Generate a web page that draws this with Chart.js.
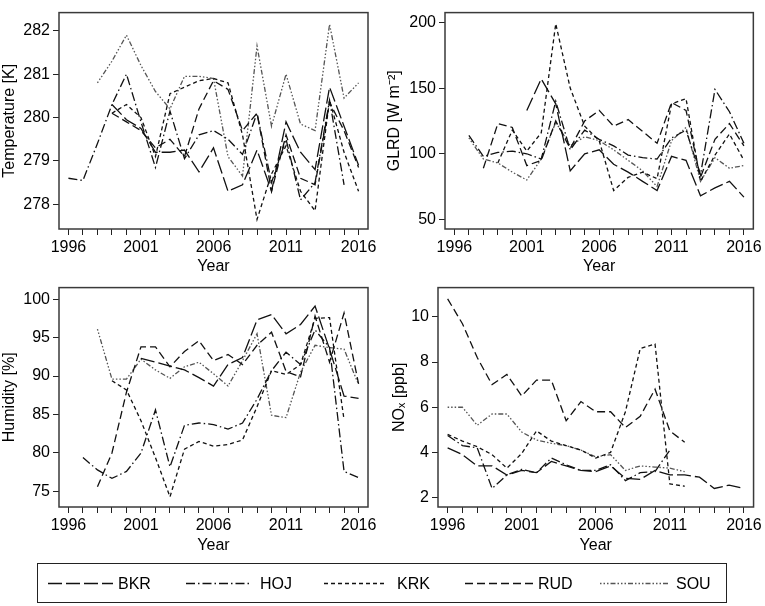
<!DOCTYPE html>
<html><head><meta charset="utf-8">
<script src="https://cdn.jsdelivr.net/npm/chart.js@4.4.1/dist/chart.umd.min.js"></script>
<style>
html,body{margin:0;padding:0;background:#fff;}
body{width:765px;height:606px;position:relative;overflow:hidden;font-family:"Liberation Sans",Arial,sans-serif;}
canvas{position:absolute;}
#legend{position:absolute;left:37px;top:563px;width:688px;height:38px;border:1px solid #222;}
#legend svg{position:absolute;top:0;left:0;}
#legend span{position:absolute;top:10px;font-size:16px;color:#000;line-height:19px;}
</style></head><body>
<canvas id="c1" width="380" height="276" style="left:0;top:0;width:380px;height:276px"></canvas>
<canvas id="c2" width="385" height="276" style="left:380px;top:0;width:385px;height:276px"></canvas>
<canvas id="c3" width="380" height="280" style="left:0;top:275px;width:380px;height:280px"></canvas>
<canvas id="c4" width="385" height="280" style="left:380px;top:275px;width:385px;height:280px"></canvas>
<div id="legend"></div>
<script>
// ---------- data ----------
const years = [1996,1997,1998,1999,2000,2001,2002,2003,2004,2005,2006,2007,2008,2009,2010,2011,2012,2013,2014,2015,2016];
const stations = ["BKR","HOJ","KRK","RUD","SOU"];

const tempBKR = [null,null,null,280.3,279.95,279.75,279.2,279.2,279.25,278.75,279.3,278.3,278.45,279.25,278.3,279.9,279.2,278.8,280.7,279.8,278.9];
const tempHOJ = [278.6,278.55,279.4,280.3,281.0,279.9,278.85,280.15,279.05,279.6,279.7,279.5,279.15,280.1,278.5,279.5,278.1,278.5,280.4,278.45,null];
const tempKRK = [null,null,null,280.1,280.3,280.0,279.1,280.55,280.7,280.85,280.9,280.8,279.6,277.65,278.7,279.35,278.3,277.85,280.4,279.2,278.3];
const tempRUD = [null,null,null,280.1,279.9,279.7,279.3,279.5,279.1,280.2,280.85,280.65,279.7,280.1,278.3,279.6,278.6,278.45,280.35,279.7,278.85];
const tempSOU = [null,null,280.8,281.3,281.9,281.2,280.6,280.2,280.95,280.95,280.9,279.1,278.65,281.65,279.8,281.0,279.85,279.7,282.15,280.45,280.8];

const glrdBKR = [null,null,null,null,null,133,157,138,87,100,103,92,86,79,72,98,95,68,74,79,67];
const glrdHOJ = [null,114,98,101,102,100,96,140,103,118,111,106,99,97,96,112,118,84,149,132,108];
const glrdKRK = [null,null,null,93,118,102,116,199,150,121,110,72,82,86,81,138,142,79,99,115,95];
const glrdRUD = [null,null,89,123,120,91,95,125,104,125,133,121,126,117,108,139,133,82,111,123,106];
const glrdSOU = [null,112,96,93,86,80,96,124,106,113,110,103,95,87,75,110,120,79,97,89,91];

const humBKR = [null,null,null,null,null,92.3,91.8,91.3,90.8,89.8,88.7,91.5,92.4,97.3,98.0,95.5,96.7,99.1,93.5,87.4,87.1];
const humHOJ = [null,79.4,77.8,76.7,77.6,80.0,85.6,78.2,83.6,83.9,83.7,83.1,83.9,87.0,90.7,93.1,91.5,96.0,93.7,77.6,76.8];
const humKRK = [null,null,null,89.4,88.2,84.2,79.4,74.3,80.5,81.5,80.9,81.1,81.7,86.0,90.7,90.2,91.5,97.5,97.6,84.3,null];
const humRUD = [null,null,75.6,80.0,87.9,93.8,93.8,91.2,93.2,94.6,92.0,92.8,91.5,94.0,95.7,90.6,89.9,97.8,91.8,98.2,89.0];
const humSOU = [null,null,96.1,89.6,89.6,92.2,90.8,89.7,91.2,91.8,90.3,88.7,92.0,95.5,84.9,84.6,90.5,94.0,93.7,93.5,88.9];

const noxBKR = [4.2,3.9,3.4,3.4,3.0,3.2,3.1,3.6,3.4,3.2,3.15,3.4,2.85,2.8,3.2,3.0,3.0,2.9,2.4,2.55,2.4];
const noxHOJ = [4.75,4.3,4.2,2.4,3.0,3.25,3.1,3.75,3.45,3.2,3.2,3.45,2.75,3.1,3.15,4.1,null,null,null,null,null];
const noxKRK = [4.8,4.5,4.25,3.9,3.3,3.95,4.95,4.5,4.3,4.1,3.75,4.0,5.8,8.6,8.8,2.6,2.5,null,null,null,null];
const noxRUD = [10.8,9.7,8.2,7.0,7.45,6.5,7.2,7.2,5.4,6.25,5.8,5.8,5.1,5.6,6.8,4.95,4.45,null,null,null,null];
const noxSOU = [6.0,6.0,5.2,5.7,5.7,4.9,4.55,4.4,4.3,4.1,3.8,3.9,3.2,3.4,3.35,3.3,3.15,null,null,null,null];

const tempTicks = [278,279,280,281,282];
const glrdTicks = [50,100,150,200];
const humTicks = [75,80,85,90,95,100];
const noxTicks = [2,4,6,8,10];
const yearLabels = [1996,2001,2006,2011,2016];

// ---------- styles ----------
const lineStyles = {
  BKR:{color:'#111', dash:[14,4]},
  HOJ:{color:'#111', dash:[9,3,1.5,3]},
  KRK:{color:'#111', dash:[4,3]},
  RUD:{color:'#111', dash:[8,4]},
  SOU:{color:'#555', dash:[1.5,2,1.5,2,1.5,2,5,2]}
};
const FONT = {family:"'Liberation Sans', Arial, sans-serif", size:16};

const framePlugin = {
  id:'frame',
  afterDraw(chart){
    const a = chart.chartArea, c = chart.ctx;
    c.save(); c.strokeStyle='#3a3a3a'; c.lineWidth=1.5;
    c.strokeRect(a.left, a.top, a.right-a.left, a.bottom-a.top);
    c.restore();
  }
};

function makeChart(id, seriesArrays, yMin, yMax, yTicks, yTitle, yAxisW, xAxisH, rightPad, titlePad){
  const datasets = stations.map((s,i)=>{
    const pts = [];
    years.forEach((yr,j)=>{ const v = seriesArrays[i][j]; if(v!==null) pts.push({x:yr,y:v}); });
    return {label:s, data:pts, borderColor:lineStyles[s].color, borderWidth:1.3,
            borderDash:lineStyles[s].dash, pointRadius:0, fill:false, tension:0};
  });
  return new Chart(document.getElementById(id), {
    type:'line',
    data:{datasets},
    options:{
      responsive:false, animation:false, devicePixelRatio:1,
      layout:{padding:{left:0, top:2, right:rightPad, bottom:0}},
      plugins:{legend:{display:false}, tooltip:{enabled:false}},
      scales:{
        x:{type:'linear', min:1995.35, max:2016.65,
           afterBuildTicks:s=>{ s.ticks = years.map(v=>({value:v})); },
           afterFit:s=>{ s.height = xAxisH; },
           ticks:{autoSkip:false, maxRotation:0, padding:3, color:'#000', font:FONT,
                  callback:v=> yearLabels.includes(v) ? String(v) : ''},
           grid:{drawOnChartArea:false, drawTicks:true, tickLength:6, tickColor:'#222'},
           border:{display:false},
           title:{display:true, text:'Year', color:'#000', font:FONT, padding:0}},
        y:{type:'linear', min:yMin, max:yMax,
           afterBuildTicks:s=>{ s.ticks = yTicks.map(v=>({value:v})); },
           afterFit:s=>{ s.width = yAxisW; },
           ticks:{padding:3, color:'#000', font:FONT},
           grid:{drawOnChartArea:false, drawTicks:true, tickLength:6, tickColor:'#222'},
           border:{display:false},
           title:{display:true, text:yTitle, color:'#000', font:FONT, padding:{top:titlePad,bottom:0}}}
      }
    },
    plugins:[framePlugin]
  });
}

makeChart('c1', [tempBKR,tempHOJ,tempKRK,tempRUD,tempSOU], 277.43, 282.42, tempTicks, 'Temperature [K]', 59, 47, 12, 0);
makeChart('c2', [glrdBKR,glrdHOJ,glrdKRK,glrdRUD,glrdSOU], 42.7, 207.5, glrdTicks, 'GLRD [W m\u207B\u00B2]', 65, 47, 9, 5);
makeChart('c3', [humBKR,humHOJ,humKRK,humRUD,humSOU], 72.98, 101.5, humTicks, 'Humidity [%]', 59, 48, 12, 0);
makeChart('c4', [noxBKR,noxHOJ,noxKRK,noxRUD,noxSOU], 1.58, 11.3, noxTicks, 'NO\u2093 [ppb]', 58, 48, 9, 10);

// ---------- legend ----------
const legendPos = [[10,75,80],[148,211,222],[286,349,359],[427,495,500],[562,630,638]];
const lg = document.getElementById('legend');
let svg = '<svg width="688" height="38" xmlns="http://www.w3.org/2000/svg">';
stations.forEach((s,i)=>{
  const [x1,x2] = legendPos[i];
  svg += `<line x1="${x1}" y1="19.5" x2="${x2}" y2="19.5" stroke="${lineStyles[s].color}" stroke-width="1.5" stroke-dasharray="${lineStyles[s].dash.join(',')}"/>`;
});
svg += '</svg>';
lg.innerHTML = svg + stations.map((s,i)=>`<span style="left:${legendPos[i][2]}px">${s}</span>`).join('');
</script>
</body></html>
